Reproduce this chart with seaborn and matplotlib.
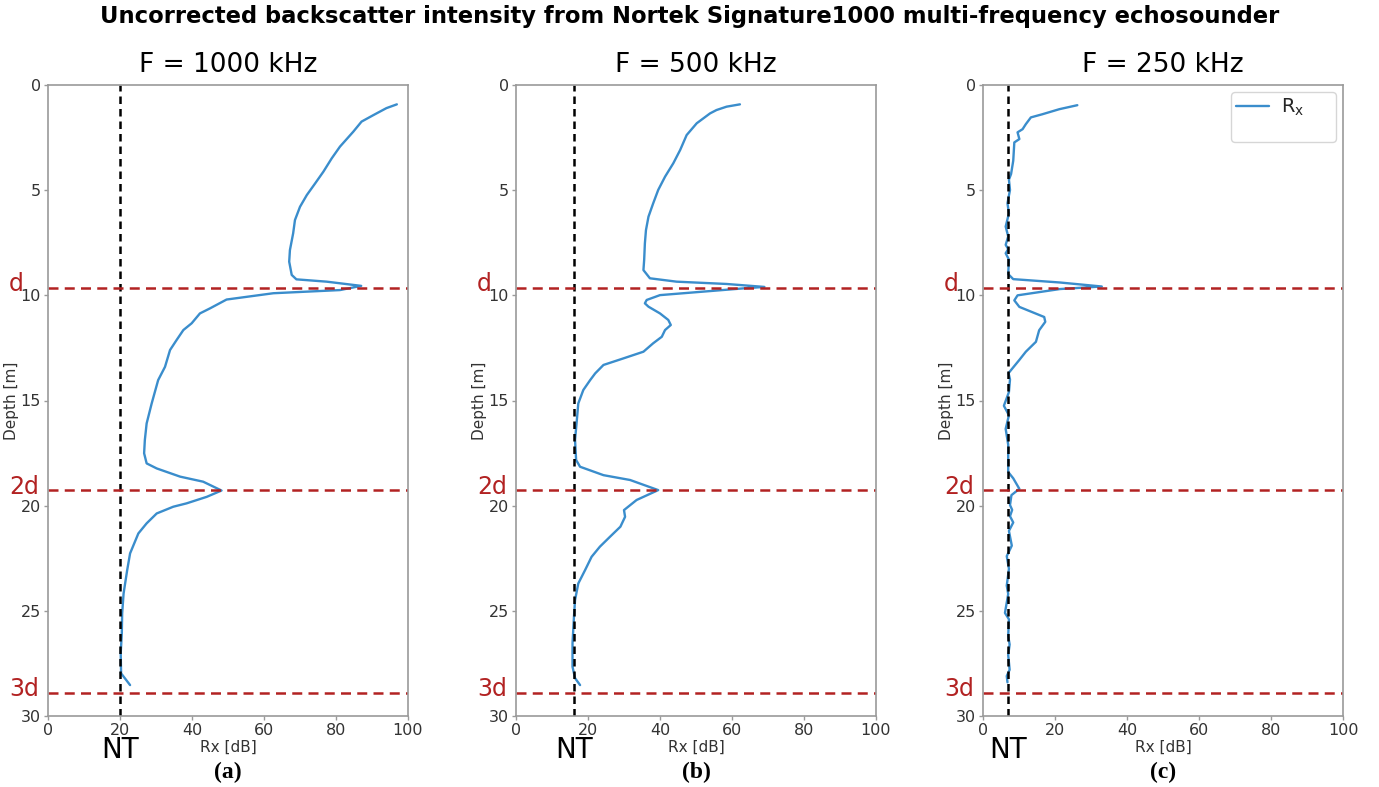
import numpy as np
import pandas as pd
import matplotlib
matplotlib.use("Agg")
import matplotlib.pyplot as plt
import seaborn as sns
from matplotlib.lines import Line2D

# ---------------- data ----------------
titles = ["F = 1000 kHz", "F = 500 kHz", "F = 250 kHz"]
panel_labels = ["(a)", "(b)", "(c)"]
noise_threshold = [20, 16, 7]
d_depth = 9.63
multiple_labels = ["d", "2d", "3d"]

depth_a = [0.92, 1.1, 1.43, 1.74, 2.22, 2.93, 3.49, 4.12, 4.68, 5.23, 5.79, 6.42, 7.05, 7.85, 8.4, 9.03, 9.24,
           9.35, 9.55, 9.75, 9.9, 10.2, 10.62, 10.86, 11.33, 11.65, 12.13, 12.6, 13.4, 14.03, 15.14,
           16.09, 16.88, 17.51, 17.99, 18.23, 18.62, 18.86, 19.28, 19.58, 19.89, 20.05, 20.37, 20.84,
           21.32, 22.27, 23.06, 24.17, 25.12, 26.07, 27.02, 27.97, 28.53]
rx_a = [96.9, 94.0, 90.4, 87.1, 84.8, 81.1, 78.8, 76.5, 74.2, 71.9, 70.0, 68.6, 68.1, 67.2, 67.0, 67.7, 69.0,
        77.4, 87.0, 81.1, 62.6, 49.6, 45.0, 42.2, 39.9, 37.6, 35.7, 33.9, 32.5, 30.6, 28.8,
        27.4, 26.9, 26.7, 27.4, 30.2, 36.7, 43.1, 48.2, 44.1, 38.5, 34.8, 30.2, 27.4,
        25.1, 22.8, 22.0, 21.0, 20.6, 20.5, 20.2, 20.3, 22.8]

depth_b = [0.92, 1.03, 1.19, 1.35, 1.82, 2.38, 3.09, 3.72, 4.36, 4.99, 5.63, 6.26, 6.9, 7.53, 8.32, 8.8, 9.19,
           9.35, 9.46, 9.6, 9.67, 9.99, 10.22, 10.38, 10.54, 10.86, 11.17, 11.41, 11.65, 11.97,
           12.28, 12.68, 13.0, 13.31, 13.71, 14.03, 14.5, 15.14, 15.93, 16.88, 17.83, 18.15, 18.55,
           18.78, 19.26, 19.73, 20.21, 20.53, 21.0, 21.48, 21.95, 22.43, 23.06, 23.7, 24.49, 25.28,
           26.55, 27.66, 28.2, 28.53]
rx_b = [62.2, 58.5, 55.7, 53.9, 50.2, 47.4, 45.6, 43.7, 41.4, 39.5, 38.1, 36.8, 36.1, 35.8, 35.6, 35.4, 37.2,
        44.6, 58.5, 69.0, 63.1, 40.0, 36.3, 35.8, 36.8, 40.0, 42.3, 43.0, 41.4, 40.5,
        38.1, 35.4, 29.8, 24.3, 22.0, 20.6, 18.7, 17.3, 16.9, 16.4, 16.7, 17.8, 24.3,
        31.7, 39.5, 33.5, 30.0, 30.3, 29.0, 26.1, 23.3, 21.0, 19.2, 17.3, 16.4, 16.1,
        15.7, 15.7, 16.4, 17.8]

depth_c = [0.96, 1.15, 1.39, 1.54, 1.86, 2.1, 2.25, 2.57, 2.73, 3.6, 4.23, 4.5, 4.99, 5.62, 6.1,
           6.73, 7.2, 7.6, 7.8, 8.0, 8.3, 8.99, 9.23, 9.39, 9.58, 9.7, 10.0, 10.24, 10.55, 10.87,
           11.03, 11.26, 11.66, 12.21, 12.68, 13.07, 13.55, 13.7, 14.0, 14.6, 15.25, 15.7, 16.35,
           17.1, 18.4, 18.7, 19.2, 19.5, 19.97, 20.2, 20.5, 20.8, 21.2, 21.9, 22.4, 23.0, 23.8,
           24.2, 25.1, 25.4, 26.2, 26.6, 27.1, 27.8, 28.1, 28.4]
rx_c = [26.2, 21.2, 16.5, 13.3, 11.9, 11.0, 9.6, 10.1, 8.7, 8.4, 7.8, 7.2, 7.5, 6.8, 7.2,
        6.3, 7.0, 6.3, 7.0, 6.3, 7.2, 7.0, 8.4, 21.4, 33.0, 21.4, 9.6, 8.7, 10.1, 14.7,
        17.0, 17.3, 15.6, 14.7, 11.9, 10.1, 7.8, 7.1, 7.5, 7.2, 5.8, 7.2, 6.3,
        7.0, 7.0, 8.4, 10.1, 7.9, 7.5, 8.1, 7.5, 8.4, 7.2, 8.0, 6.6, 7.2, 6.6,
        7.0, 6.1, 7.2, 7.0, 7.4, 7.0, 7.4, 6.6, 6.8]

profiles = [(depth_a, rx_a), (depth_b, rx_b), (depth_c, rx_c)]

# ---------------- style ----------------
sns.set_theme(style="ticks")
plt.rcParams["font.family"] = ["DejaVu Sans"]
plt.rcParams["axes.edgecolor"] = "#9a9a9a"
plt.rcParams["axes.linewidth"] = 1.2
plt.rcParams["xtick.color"] = "#9a9a9a"
plt.rcParams["ytick.color"] = "#9a9a9a"
plt.rcParams["xtick.labelcolor"] = "#333333"
plt.rcParams["ytick.labelcolor"] = "#333333"

line_color = "#3a8dcc"
red = "#b22222"

fig = plt.figure(figsize=(13.79, 7.87), dpi=100)
lefts = [48, 516, 983]
W, H = 1379, 787
axes = []
for i, lx in enumerate(lefts):
    ax = fig.add_axes([lx / W, 1 - 716 / H, 360 / W, (716 - 85) / H])
    axes.append(ax)

for i, ax in enumerate(axes):
    dep, rx = profiles[i]
    df = pd.DataFrame({"Depth": dep, "Rx": rx})
    sns.lineplot(data=df, x="Rx", y="Depth", sort=False, estimator=None,
                 color=line_color, linewidth=1.7, ax=ax)
    ax.axvline(noise_threshold[i], color="black", linestyle="--", linewidth=1.8, dashes=(3, 2))
    for k, lab in enumerate(multiple_labels):
        yv = d_depth * (k + 1)
        ax.axhline(yv, color=red, linestyle="--", linewidth=1.8, dashes=(4, 2.5))
        ax.text(-0.108, yv - 0.15, lab, color=red, fontsize=17, ha="left", va="center",
                transform=ax.get_yaxis_transform())
    ax.set_xlim(0, 100)
    ax.set_ylim(30, 0)
    ax.set_xticks([0, 20, 40, 60, 80, 100])
    ax.set_yticks([0, 5, 10, 15, 20, 25, 30])
    ax.tick_params(labelsize=11.5, length=3, width=1, pad=2)
    for s in ax.spines.values():
        s.set_visible(True)
    ax.set_title(titles[i], fontsize=19, pad=9, color="black")
    ax.set_xlabel("Rx [dB]", fontsize=11, color="#333333", labelpad=1)
    ax.set_ylabel("Depth [m]", fontsize=11, color="#333333", labelpad=1)
    ax.text(noise_threshold[i], -0.054, "NT", fontsize=20, ha="center", va="center",
            color="black", transform=ax.get_xaxis_transform())
    ax.text(0.5, -0.089, panel_labels[i], fontsize=17, fontweight="bold", ha="center",
            va="center", family=["Liberation Serif"], color="black", transform=ax.transAxes)
    if i == 2:
        h = [Line2D([], [], color=line_color, linewidth=1.7), Line2D([], [], color="none")]
        ax.legend(h, ["R$_\\mathrm{x}$", "\u00a0" * 8], loc="upper right", fontsize=14, frameon=True,
                  handlelength=1.7, handletextpad=0.65, borderpad=0.25, labelspacing=0.0,
                  borderaxespad=0.35)

fig.suptitle("Uncorrected backscatter intensity from Nortek Signature1000 multi-frequency echosounder",
             fontsize=16.3, fontweight="bold", y=1 - 17 / H, va="center", color="black")

fig.savefig("out.png", dpi=100)
